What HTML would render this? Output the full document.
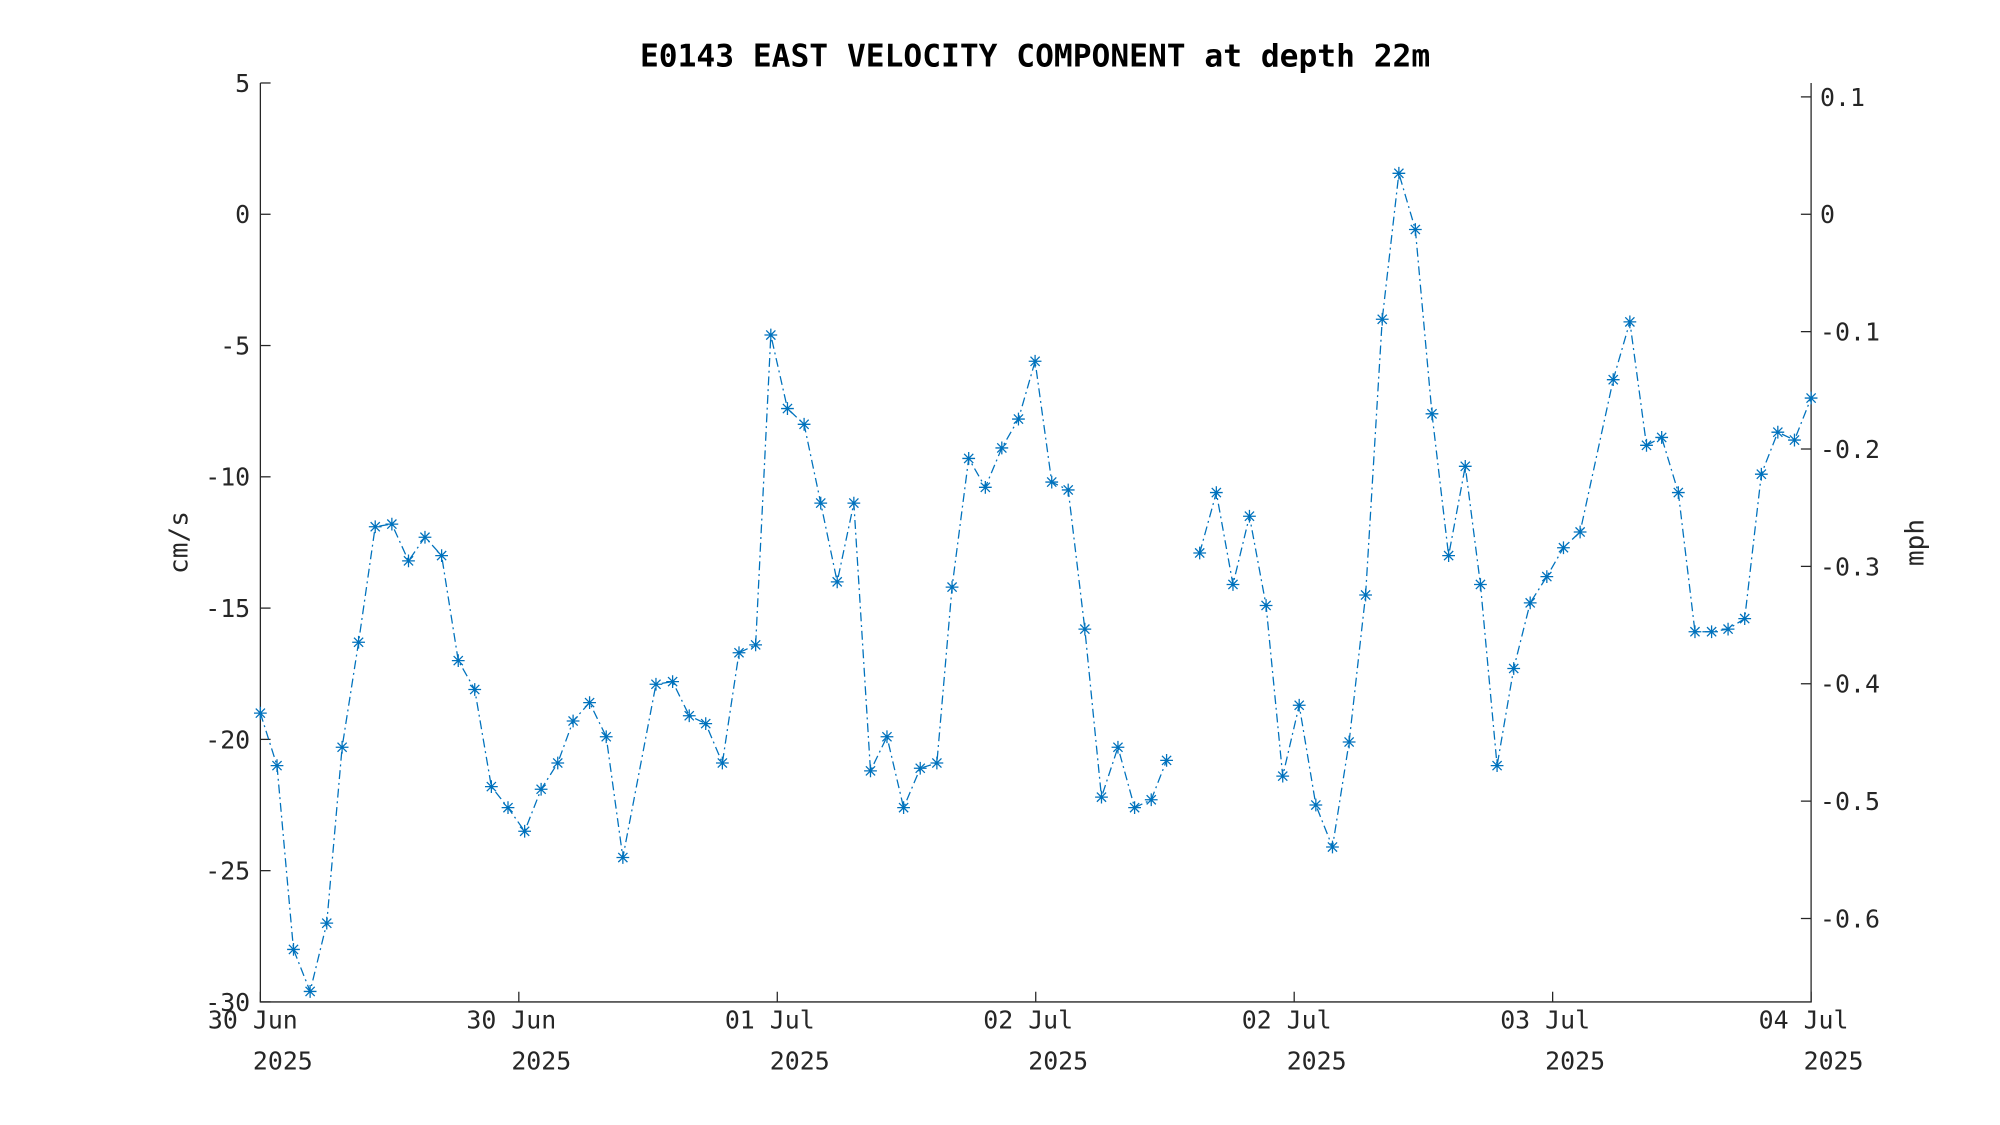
<!DOCTYPE html>
<html><head><meta charset="utf-8"><style>
html,body{margin:0;padding:0;background:#fff;}
svg{display:block;}
text{font-family:"DejaVu Sans Mono","Liberation Mono",monospace;fill:#262626;}
</style></head>
<body>
<svg id="chart" width="2000" height="1125" viewBox="0 0 1567 881.4" xmlns="http://www.w3.org/2000/svg">
<rect x="0" y="0" width="1567" height="881.4" fill="#fff"/>
<text x="811" y="52" text-anchor="middle" font-size="24.5" font-weight="bold" fill="#000" style="fill:#000">E0143 EAST VELOCITY COMPONENT at depth 22m</text>
<g id="axes"></g>
<g id="series"></g>
<text transform="translate(147,425) rotate(-90)" text-anchor="middle" font-size="20.5">cm/s</text>
<text transform="translate(1507,425) rotate(-90)" text-anchor="middle" font-size="20.5">mph</text>
</svg>
<script>
const hours = [0,1.03,2.05,3.08,4.11,5.06,6.08,7.11,8.14,9.17,10.19,11.22,12.25,13.27,14.3,15.33,16.36,17.38,18.41,19.36,20.38,21.41,22.44,24.49,25.52,26.55,27.57,28.6,29.63,30.66,31.6,32.63,33.66,34.69,35.71,36.74,37.77,38.79,39.82,40.85,41.88,42.82,43.85,44.88,45.9,46.93,47.96,48.99,50.01,51.04,52.07,53.09,54.12,55.15,56.1,57.13,58.15,59.18,60.21,61.23,62.26,63.29,64.31,65.34,66.37,67.4,68.42,69.45,70.48,71.5,72.53,73.56,74.59,75.53,76.56,77.59,78.61,79.64,80.67,81.7,83.75,84.78,85.81,86.75,87.78,88.81,89.84,90.86,91.89,92.92,93.94,94.97,96];
const velocity = [-19.0,-21.0,-28.0,-29.6,-27.0,-20.3,-16.3,-11.9,-11.8,-13.2,-12.3,-13.0,-17.0,-18.1,-21.8,-22.6,-23.5,-21.9,-20.9,-19.3,-18.6,-19.9,-24.5,-17.9,-17.8,-19.1,-19.4,-20.9,-16.7,-16.4,-4.6,-7.4,-8.0,-11.0,-14.0,-11.0,-21.2,-19.9,-22.6,-21.1,-20.9,-14.2,-9.3,-10.4,-8.9,-7.8,-5.6,-10.2,-10.5,-15.8,-22.2,-20.3,-22.6,-22.3,-20.8,null,-12.9,-10.6,-14.1,-11.5,-14.9,-21.4,-18.7,-22.5,-24.1,-20.1,-14.5,-4.0,1.56,-0.58,-7.6,-13.0,-9.6,-14.1,-21.0,-17.3,-14.8,-13.8,-12.7,-12.1,-6.3,-4.1,-8.8,-8.5,-10.6,-15.9,-15.9,-15.8,-15.4,-9.9,-8.3,-8.6,-7.0];
const leftTicks = [5,0,-5,-10,-15,-20,-25,-30];
const rightTicks = [0.1,0,-0.1,-0.2,-0.3,-0.4,-0.5,-0.6];
const xTickHours = [0,16,32,48,64,80,96];
const xTickLabels = ["30 Jun","30 Jun","01 Jul","02 Jul","02 Jul","03 Jul","04 Jul"];
const xTickYear = ["2025","2025","2025","2025","2025","2025","2025"];

const NS="http://www.w3.org/2000/svg";
const L=204,R=1419,T=65,B=785;
const X=h=>L+(h-0)/(96-0)*(R-L);
const Y=v=>T+(5-v)/(5-(-30))*(B-T);
const YM=m=>Y(m*44.704);
function mk(tag,attrs,parent){const e=document.createElementNS(NS,tag);for(const k in attrs)e.setAttribute(k,attrs[k]);parent.appendChild(e);return e;}
const ax=document.getElementById('axes');
let e;
e=mk('path',{d:`M${L},${T}V${B}H${R}V${T}`,fill:'none',stroke:'#262626','stroke-width':1},ax);


leftTicks.forEach(v=>{
  const y=Y(v);
  e=mk('line',{x1:L,x2:L+8,y1:y,y2:y,stroke:'#262626','stroke-width':1},ax);
  
  
  e=mk('text',{x:196,y:y+7,'text-anchor':'end','font-size':19.5},ax);
  e.textContent=String(v);
  
  
});
rightTicks.forEach(m=>{
  const y=YM(m);
  e=mk('line',{x1:R-8,x2:R,y1:y,y2:y,stroke:'#262626','stroke-width':1},ax);
  
  
  e=mk('text',{x:1426,y:y+7,'text-anchor':'start','font-size':19.5},ax);
  e.textContent=String(m);
  
  
});
xTickHours.forEach((h,i)=>{
  const x=X(h);
  e=mk('line',{x1:x,x2:x,y1:B,y2:B-8,stroke:'#262626','stroke-width':1},ax);
  
  
  const cw=11.74;
  e=mk('text',{x:x-3.5*cw,y:806,'font-size':19.5},ax);
  e.textContent=xTickLabels[i];
  
  
  e=mk('text',{x:x-0.5*cw,y:838,'font-size':19.5},ax);
  e.textContent=xTickYear[i];
  
  
});
const sg=document.getElementById('series');
let segs=[],cur=[];
velocity.forEach((v,i)=>{if(v===null){if(cur.length)segs.push(cur);cur=[];}else cur.push([X(hours[i]),Y(v)]);});
if(cur.length)segs.push(cur);
segs.forEach(s=>{
  e=mk('polyline',{points:s.map(p=>p.join(',')).join(' '),fill:'none',stroke:'#0072BD','stroke-width':1,'stroke-dasharray':'7,3,1.5,3'},sg);
  
  
});
velocity.forEach((v,i)=>{
  if(v===null)return;
  const x=X(hours[i]),y=Y(v),r=5,d=3.6;
  e=mk('path',{d:`M${x-r},${y}H${x+r}M${x},${y-r}V${y+r}M${x-d},${y-d}L${x+d},${y+d}M${x-d},${y+d}L${x+d},${y-d}`,stroke:'#0072BD','stroke-width':1,fill:'none'},sg);
  
  
});
</script>
</body></html>
